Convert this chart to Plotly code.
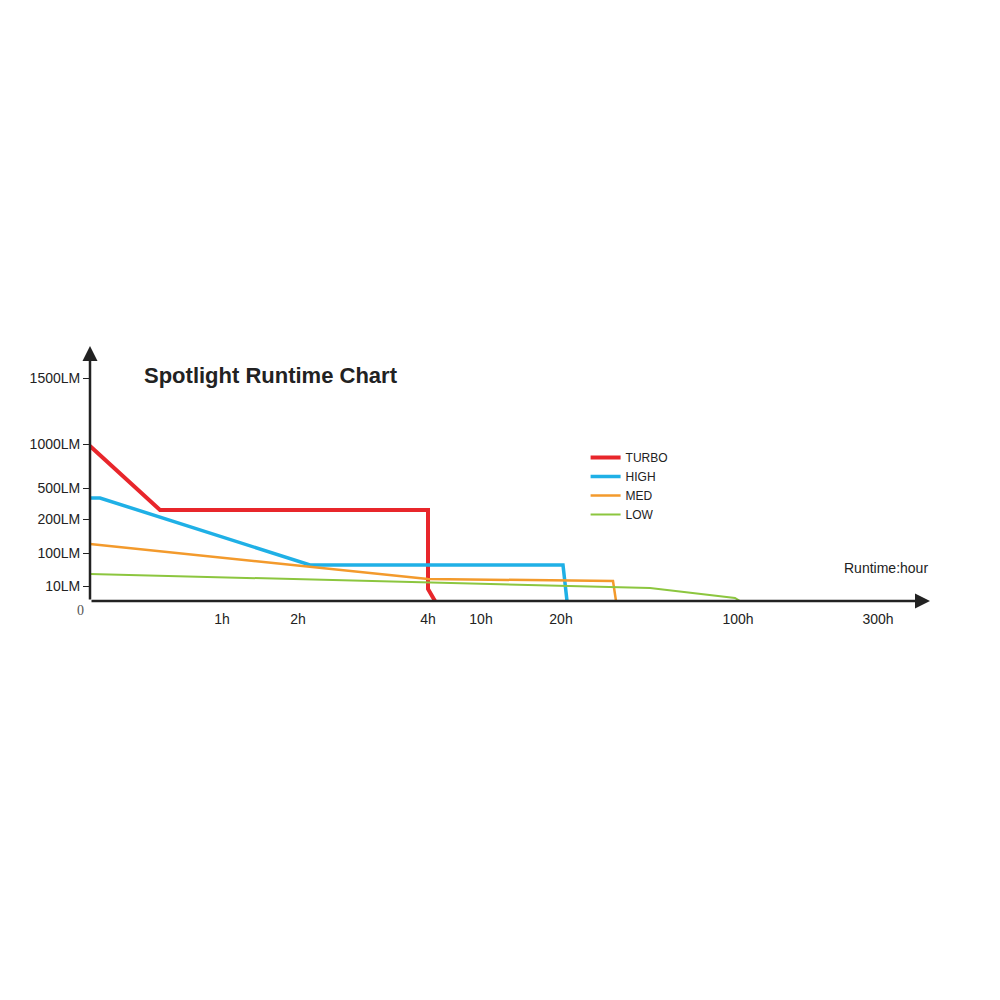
import plotly.graph_objects as go

# axis scale positions (chart units along nonlinear axes)
x_tick_pos = [132, 208, 338, 391, 471, 648, 788]
x_tick_text = ["1h", "2h", "4h", "10h", "20h", "100h", "300h"]
y_tick_pos = [15, 48, 82, 113, 157, 223]
y_tick_text = ["10LM", "100LM", "200LM", "500LM", "1000LM", "1500LM"]

turbo_x = [0, 70, 338, 338, 345]
turbo_y = [155, 91, 91, 12, 0]
high_x = [0, 10, 220, 473, 477]
high_y = [103, 103, 36, 36, 0]
med_x = [0, 220, 338, 523, 526]
med_y = [57, 34, 22, 20, 0]
low_x = [0, 338, 560, 645, 650]
low_y = [27, 19, 13, 3, 0]

fig = go.Figure()
for name, xs, ys, col, w in [("TURBO", turbo_x, turbo_y, "#e8262b", 4),
                             ("HIGH", high_x, high_y, "#1fb0e6", 3.5),
                             ("MED", med_x, med_y, "#f39a2c", 2.5),
                             ("LOW", low_x, low_y, "#8cc63f", 2)]:
    fig.add_trace(go.Scatter(x=xs, y=ys, mode="lines", name=name,
                             line=dict(color=col, width=w)))

fig.update_layout(
    width=1000, height=1000, paper_bgcolor="white", plot_bgcolor="white",
    margin=dict(l=82, r=78, t=338, b=407),
    font=dict(family="Liberation Sans, Arial", color="#222"),
    xaxis=dict(range=[0, 840], tickvals=x_tick_pos, ticktext=x_tick_text,
               showgrid=False, zeroline=False, showline=False,
               tickfont=dict(size=14), ticks="", ticklabelstandoff=8),
    yaxis=dict(range=[0, 255], tickvals=y_tick_pos, ticktext=y_tick_text,
               showgrid=False, zeroline=False, showline=False,
               tickfont=dict(size=14), ticks="outside", ticklen=6,
               tickcolor="#222"),
    legend=dict(x=0.59, y=0.62, xanchor="left", yanchor="top",
                font=dict(size=12), itemwidth=30, tracegroupgap=0,
                bgcolor="rgba(0,0,0,0)"),
    showlegend=True,
)
# axes with arrows
fig.add_annotation(x=1.0, y=0, xref="paper", yref="y", ax=-840, ay=0,
                   showarrow=True, arrowhead=2, arrowsize=1.2, arrowwidth=2.5,
                   arrowcolor="#222", text="")
fig.add_annotation(x=0, y=1.0, xref="x", yref="paper", ax=0, ay=255,
                   showarrow=True, arrowhead=2, arrowsize=1.2, arrowwidth=2.5,
                   arrowcolor="#222", text="")
fig.add_annotation(x=0.062, y=0.94, xref="paper", yref="paper", xanchor="left",
                   showarrow=False, text="<b>Spotlight Runtime Chart</b>",
                   font=dict(size=22, color="#222"))
fig.add_annotation(x=1.0, y=0.09, xref="paper", yref="paper", xanchor="right",
                   yanchor="bottom", showarrow=False, text="Runtime:hour",
                   font=dict(size=14))
fig.add_annotation(x=-0.005, y=0, xref="paper", yref="y", xanchor="right",
                   yanchor="top", showarrow=False, text="0",
                   font=dict(size=14, family="Liberation Serif", color="#555"))
fig.write_html("out.html")
